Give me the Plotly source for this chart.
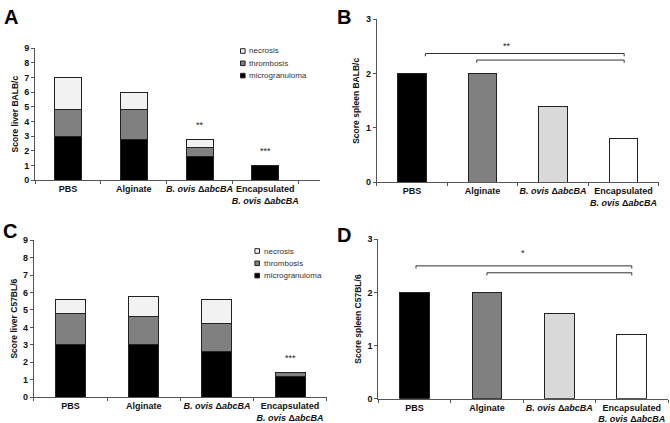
import plotly.graph_objects as go

# ---------------- data ----------------
categories = ["PBS", "Alginate", "<i>B. ovis</i> Δ<i>abcBA</i>",
              "Encapsulated<br><i>B. ovis</i> Δ<i>abcBA</i>"]
lesions = ["microgranuloma", "thrombosis", "necrosis"]

# Panel A: liver BALB/c (stacked)
a_microgranuloma = [3.0, 2.8, 1.6, 1.0]
a_thrombosis = [1.8, 2.0, 0.6, 0.0]
a_necrosis = [2.2, 1.2, 0.6, 0.0]
a_stars = ["", "", "**", "***"]
a_star_y = [0, 0, 3.3, 1.5]

# Panel B: spleen BALB/c
b_scores = [2.0, 2.0, 1.4, 0.8]

# Panel C: liver C57BL/6 (stacked)
c_microgranuloma = [3.0, 3.0, 2.6, 1.2]
c_thrombosis = [1.8, 1.6, 1.6, 0.2]
c_necrosis = [0.8, 1.2, 1.4, 0.0]
c_stars = ["", "", "", "***"]
c_star_y = [0, 0, 0, 1.85]

# Panel D: spleen C57BL/6
d_scores = [2.0, 2.0, 1.6, 1.2]

# significance brackets: (start index, end index, height)
b_brackets = [(0.19, 3.01, 2.37), (0.92, 3.01, 2.25)]
b_bracket_label = ("**", 1.35, 2.5)
d_brackets = [(0.02, 3.0, 2.5), (1.0, 3.0, 2.37)]
d_bracket_label = ("*", 1.5, 2.75)

# ---------------- style ----------------
FONT = "Arial, Liberation Sans, sans-serif"
lesion_colors = {"microgranuloma": "#000000", "thrombosis": "#808080", "necrosis": "#f2f2f2"}
spleen_colors = ["#000000", "#808080", "#d9d9d9", "#ffffff"]
BAR_W = 0.41
OUTLINE = dict(color="#222222", width=1)

W, H = 670, 423
px = lambda v: v / W
py = lambda v: 1 - v / H

fig = go.Figure()

def add_stack(xa, ya, series):
    for name, vals in zip(lesions, series):
        fig.add_trace(go.Bar(x=categories, y=vals, name=name,
                             marker_color=lesion_colors[name],
                             marker_line=OUTLINE, width=BAR_W, xaxis=xa, yaxis=ya,
                             showlegend=False, hoverinfo="name+y"))

add_stack("x", "y", [a_microgranuloma, a_thrombosis, a_necrosis])
add_stack("x3", "y3", [c_microgranuloma, c_thrombosis, c_necrosis])

fig.add_trace(go.Bar(x=categories, y=b_scores, marker_color=spleen_colors,
                     marker_line=OUTLINE, width=BAR_W, xaxis="x2", yaxis="y2",
                     showlegend=False))
fig.add_trace(go.Bar(x=categories, y=d_scores, marker_color=spleen_colors,
                     marker_line=OUTLINE, width=BAR_W, xaxis="x4", yaxis="y4",
                     showlegend=False))

axis_common = dict(showline=True, linecolor="#555555", linewidth=1, ticks="outside",
                   ticklen=3, tickcolor="#555555", showgrid=False, zeroline=False,
                   automargin=False,
                   tickfont=dict(family=FONT, size=9, color="#111111", weight="bold"))

def xax(domain, anchor, rng):
    d = dict(axis_common)
    d.update(domain=domain, anchor=anchor, type="category", range=rng,
             tickson="boundaries", tickangle=0)
    return d

def yax(domain, anchor, rng, dtick, title):
    d = dict(axis_common)
    d.update(domain=domain, anchor=anchor, range=rng, dtick=dtick,
             title=dict(text=title, standoff=4,
                        font=dict(family=FONT, size=8.5, color="#111111", weight="bold")))
    return d

fig.update_layout(
    width=W, height=H, margin=dict(l=0, r=0, t=0, b=0, autoexpand=False),
    paper_bgcolor="white", plot_bgcolor="white",
    barmode="stack",
    font=dict(family=FONT, color="#111111"),
    xaxis=xax([px(35), px(320)], "y", [-0.5, 3.83]),
    yaxis=yax([py(180), py(48.3)], "x", [0, 9], 1, "Score liver BALB/c"),
    xaxis2=xax([px(376.7), px(658.7)], "y2", [-0.5, 3.5]),
    yaxis2=yax([py(182.3), py(19.3)], "x2", [0, 3], 1, "Score spleen BALB/c"),
    xaxis3=xax([px(33.9), px(326.7)], "y3", [-0.5, 3.5]),
    yaxis3=yax([py(397), py(240.3)], "x3", [0, 9], 1, "Score liver C57BL/6"),
    xaxis4=xax([px(378.3), px(668)], "y4", [-0.5, 3.5]),
    yaxis4=yax([py(398.7), py(239.3)], "x4", [0, 3], 1, "Score spleen C57BL/6"),
    showlegend=False,
)

ann = []
shapes = []

# panel letters
for lab, x, y in [("A", 2, 4), ("B", 335, 4), ("C", 1, 218), ("D", 335, 222)]:
    ann.append(dict(text="<b>%s</b>" % lab, x=px(x), y=py(y), xref="paper", yref="paper",
                    xanchor="left", yanchor="top", showarrow=False,
                    font=dict(family=FONT, size=20, color="#000000")))

# legends for stacked panels (necrosis on top)
for lx, ly0 in [(242.8, 51), (257.2, 251)]:
    for k, name in enumerate(reversed(lesions)):
        cy = ly0 + k * 12.3
        shapes.append(dict(type="rect", xref="paper", yref="paper",
                           x0=px(lx - 2.3), x1=px(lx + 2.3), y0=py(cy + 2.3), y1=py(cy - 2.3),
                           fillcolor=lesion_colors[name], line=dict(color="#222222", width=1)))
        ann.append(dict(text=name, x=px(lx + 4.5), y=py(cy), xref="paper", yref="paper",
                        xanchor="left", yanchor="middle", showarrow=False,
                        font=dict(family=FONT, size=8, color="#333333")))

# significance stars
for i, (s, yv) in enumerate(zip(a_stars, a_star_y)):
    if s:
        ann.append(dict(text=s, x=categories[i], y=yv, xref="x", yref="y", showarrow=False,
                        yanchor="bottom", font=dict(family=FONT, size=9, color="#222222")))
for i, (s, yv) in enumerate(zip(c_stars, c_star_y)):
    if s:
        ann.append(dict(text=s, x=categories[i], y=yv, xref="x3", yref="y3", showarrow=False,
                        yanchor="bottom", font=dict(family=FONT, size=9, color="#222222")))
for (txt, xv, yv), xr, yr in [(b_bracket_label, "x2", "y2"), (d_bracket_label, "x4", "y4")]:
    ann.append(dict(text=txt, x=xv, y=yv, xref=xr, yref=yr, showarrow=False,
                    font=dict(family=FONT, size=9, color="#222222")))

for brs, xr, yr in [(b_brackets, "x2", "y2"), (d_brackets, "x4", "y4")]:
    for x0, x1, h in brs:
        ln = dict(color="#333333", width=1)
        shapes.append(dict(type="line", x0=x0, x1=x1, y0=h, y1=h, xref=xr, yref=yr, line=ln))
        shapes.append(dict(type="line", x0=x0, x1=x0, y0=h, y1=h - 0.05, xref=xr, yref=yr, line=ln))
        shapes.append(dict(type="line", x0=x1, x1=x1, y0=h, y1=h - 0.05, xref=xr, yref=yr, line=ln))

fig.update_layout(annotations=ann, shapes=shapes)
fig.write_html("out.html", config={"displayModeBar": False},
               post_script="document.body.style.margin='0px';document.body.style.padding='0px';")
